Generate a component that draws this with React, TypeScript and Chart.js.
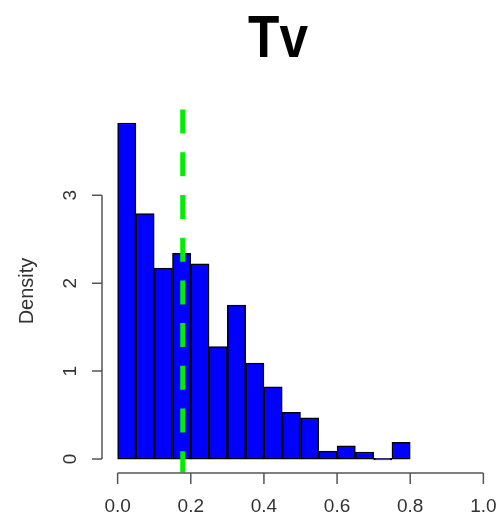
import React, { useEffect, useRef } from "react";
import { Chart, registerables } from "chart.js";

Chart.register(...registerables);

// Histogram of Tv: bin edges every 0.05 from 0 to 0.8, heights are densities
const binStarts = [0, 0.05, 0.1, 0.15, 0.2, 0.25, 0.3, 0.35, 0.4, 0.45, 0.5, 0.55, 0.6, 0.65, 0.7, 0.75];
const binWidth = 0.05;
const densities = [3.82, 2.79, 2.17, 2.34, 2.22, 1.28, 1.75, 1.09, 0.82, 0.53, 0.47, 0.09, 0.15, 0.08, 0, 0.19];

// Reference value marked with the dashed vertical line
const markerValue = 0.178;

// Axis tick labels
const xTicks = [0, 0.2, 0.4, 0.6, 0.8, 1.0];
const yTicks = [0, 1, 2, 3];

const titleText = "Tv";
const yAxisLabel = "Density";

const xLimits = [0, 1];

const SANS = "'Liberation Sans', Arial, Helvetica, sans-serif";

const rAxesPlugin = {
  id: "rAxes",
  afterDatasetsDraw(chart: any) {
    const { ctx, chartArea, scales } = chart;
    const xs = scales.x;

    // dashed marker line across the plot region
    ctx.save();
    ctx.strokeStyle = "#00ee00";
    ctx.lineWidth = 5;
    ctx.setLineDash([24, 18.7]);
    const mx = xs.getPixelForValue(markerValue);
    ctx.beginPath();
    ctx.moveTo(mx, chartArea.top);
    ctx.lineTo(mx, chartArea.bottom);
    ctx.stroke();
    ctx.restore();
  },
  afterDraw(chart: any) {
    const { ctx, chartArea, scales } = chart;
    const xs = scales.x;
    const ys = scales.y;
    ctx.save();
    ctx.strokeStyle = "#555";
    ctx.lineWidth = 1.5;
    ctx.fillStyle = "#333";

    // x axis
    const axY = chartArea.bottom + 0.5;
    ctx.beginPath();
    ctx.moveTo(xs.getPixelForValue(xTicks[0]), axY);
    ctx.lineTo(xs.getPixelForValue(xTicks[xTicks.length - 1]), axY);
    for (const t of xTicks) {
      const px = xs.getPixelForValue(t);
      ctx.moveTo(px, axY);
      ctx.lineTo(px, axY + 11);
    }
    ctx.stroke();
    ctx.font = `19px ${SANS}`;
    ctx.textAlign = "center";
    ctx.textBaseline = "middle";
    for (const t of xTicks) {
      ctx.fillText(t.toFixed(1), xs.getPixelForValue(t), axY + 34);
    }

    // y axis
    const axX = chartArea.left - 1;
    ctx.beginPath();
    ctx.moveTo(axX, ys.getPixelForValue(yTicks[0]));
    ctx.lineTo(axX, ys.getPixelForValue(yTicks[yTicks.length - 1]));
    for (const t of yTicks) {
      const py = ys.getPixelForValue(t);
      ctx.moveTo(axX, py);
      ctx.lineTo(axX - 10, py);
    }
    ctx.stroke();
    for (const t of yTicks) {
      ctx.save();
      ctx.translate(axX - 31, ys.getPixelForValue(t));
      ctx.rotate(-Math.PI / 2);
      ctx.fillText(String(t), 0, 0);
      ctx.restore();
    }

    // y axis title
    ctx.save();
    ctx.font = `20px ${SANS}`;
    ctx.translate(27, 291);
    ctx.rotate(-Math.PI / 2);
    ctx.fillText(yAxisLabel, 0, 0);
    ctx.restore();

    // main title (bold, slightly condensed)
    ctx.save();
    ctx.fillStyle = "#000";
    ctx.font = `bold 60px ${SANS}`;
    ctx.textBaseline = "alphabetic";
    ctx.translate(278, 56.5);
    ctx.scale(0.855, 1);
    ctx.fillText(titleText, 0, 0);
    ctx.restore();

    ctx.restore();
  },
};

export default function App() {
  const canvasRef = useRef<HTMLCanvasElement | null>(null);

  useEffect(() => {
    if (!canvasRef.current) return;
    const yMax = Math.max(...densities);
    const xSpan = xLimits[1] - xLimits[0];
    const chart = new Chart(canvasRef.current, {
      type: "bar",
      data: {
        datasets: [
          {
            data: binStarts.map((s, i) => ({ x: s + binWidth / 2, y: densities[i] })),
            backgroundColor: "#0000ff",
            borderColor: "#000",
            borderWidth: 1.5,
            borderSkipped: false,
            minBarLength: 1.5,
            barPercentage: 1,
            categoryPercentage: 1,
          },
        ],
      },
      options: {
        responsive: false,
        animation: false,
        layout: { padding: { left: 103, top: 109.6, right: 0, bottom: 44.5 } },
        plugins: { legend: { display: false }, tooltip: { enabled: false }, title: { display: false } },
        scales: {
          x: {
            type: "linear",
            display: false,
            offset: false,
            min: xLimits[0] - 0.04 * xSpan,
            max: xLimits[1] + 0.04 * xSpan,
          },
          y: {
            type: "linear",
            display: false,
            min: -0.04 * yMax,
            max: yMax * 1.04,
          },
        },
      },
      plugins: [rAxesPlugin],
    });
    return () => chart.destroy();
  }, []);

  return (
    <div style={{ position: "fixed", left: 0, top: 0, width: 498, height: 517, background: "#fff" }}>
      <canvas ref={canvasRef} width={498} height={517} style={{ display: "block" }} />
    </div>
  );
}
